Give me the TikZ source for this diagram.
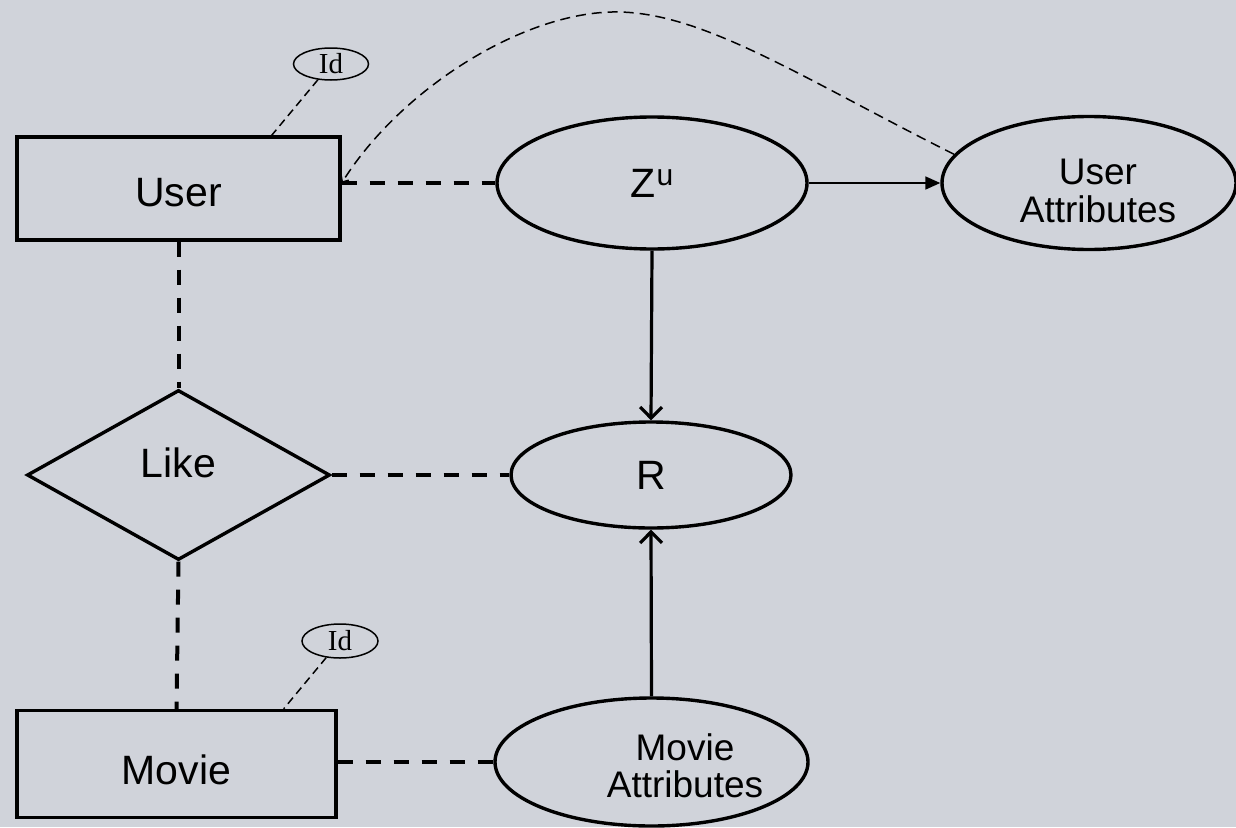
\documentclass[tikz,border=0pt]{standalone}
\usepackage{fontspec}
\setmainfont{Liberation Sans}
\newfontfamily\idfont{Liberation Serif}
\usetikzlibrary{shapes.geometric,arrows.meta,calc}
\definecolor{bgcol}{RGB}{208,211,218}

\begin{document}
\begin{tikzpicture}[x=1pt,y=-1pt,
  bigtext/.style={font=\fontsize{41}{41}\selectfont},
  attrtext/.style={font=\fontsize{37}{36}\selectfont},
  entity/.style={draw,line width=3.4pt,rectangle,inner sep=0pt,bigtext},
  relation/.style={draw,line width=3.4pt,diamond,inner sep=0pt,bigtext},
  latent/.style={draw,line width=3.4pt,ellipse,inner sep=0pt,bigtext},
  attr/.style={draw,line width=3.4pt,ellipse,inner sep=0pt,attrtext},
  idkey/.style={draw,line width=1.5pt,ellipse,inner sep=0pt,font=\idfont\fontsize{29}{29}\selectfont},
  link/.style={line width=4pt,dash pattern=on 15pt off 13pt},
  idlink/.style={line width=1.5pt,dash pattern=on 8pt off 5pt},
  depend/.style={line width=3.2pt,-{Straight Barb[length=11pt,width=22pt]}},
  thinarrow/.style={line width=1.7pt,-{Triangle[length=15pt,width=13pt]}},
  curvelink/.style={line width=1.5pt,dash pattern=on 10pt off 6pt,-{Straight Barb[length=5pt,width=9pt]}}
]
% canvas
\fill[bgcol] (0,0) rectangle (1236,827);
\useasboundingbox (0,0) rectangle (1236,827);

% entities and relation
\node[entity,minimum width=323pt,minimum height=103pt] (user) at (178.5,188.5)
  {\raisebox{-4pt}[\height][\depth]{User}};
\node[entity,minimum width=319pt,minimum height=107pt] (movie) at (176.5,764)
  {\raisebox{-6pt}[\height][\depth]{Movie}};
\node[relation,minimum width=303pt,minimum height=170pt] (like) at (178.5,475)
  {\raisebox{12pt}[\height][\depth]{Like}};

% key attributes
\node[idkey,minimum width=75pt,minimum height=32pt] (id1) at (331,64) {Id};
\node[idkey,minimum width=76pt,minimum height=34pt] (id2) at (340,641) {Id};

% latent variable, rating and attributes
\node[latent,minimum width=310pt,minimum height=132pt] (zu) at (652,183)
  {Z\hspace{1pt}\raisebox{12pt}{\fontsize{30}{30}\selectfont u}};
\node[latent,minimum width=280pt,minimum height=106pt] (r) at (651,475) {R};
\node[attr,minimum width=294pt,minimum height=133pt] (ua) at (1089,183)
  {\hspace*{18pt}\makebox[0pt]{\raisebox{-13pt}[\height][\depth]{\begin{tabular}{@{}c@{}}User\\Attributes\end{tabular}}}};
\node[attr,minimum width=313pt,minimum height=128pt] (ma) at (651.5,762)
  {\hspace*{67pt}\makebox[0pt]{\raisebox{-9pt}[\height][\depth]{\begin{tabular}{@{}c@{}}Movie\\Attributes\end{tabular}}}};

% ER links
\coordinate (uside) at (user.east |- zu.west);
\draw[link] (uside) -- (zu.west);
\draw[link] (user.south) -- (like.north);
\draw[link] (like.east) -- (r.west);
\draw[link] (like.south) -- (movie.north);
\draw[link] (movie.east |- ma.west) -- (ma.west);
\draw[idlink] (id1) -- ($(user.north east)+(-70,0)$);
\draw[idlink] (id2) -- ($(movie.north east)+(-54,0)$);

% dependencies
\draw[depend] (zu.south) -- (r.north);
\draw[depend] (ma.north) -- (r.south);
\draw[thinarrow] (zu.east) -- (ua.west);
\draw[curvelink] (ua.168) .. controls (800,77) and (700,10) .. (612,12)
  .. controls (520,14) and (400,90) .. (uside);
\end{tikzpicture}
\end{document}
